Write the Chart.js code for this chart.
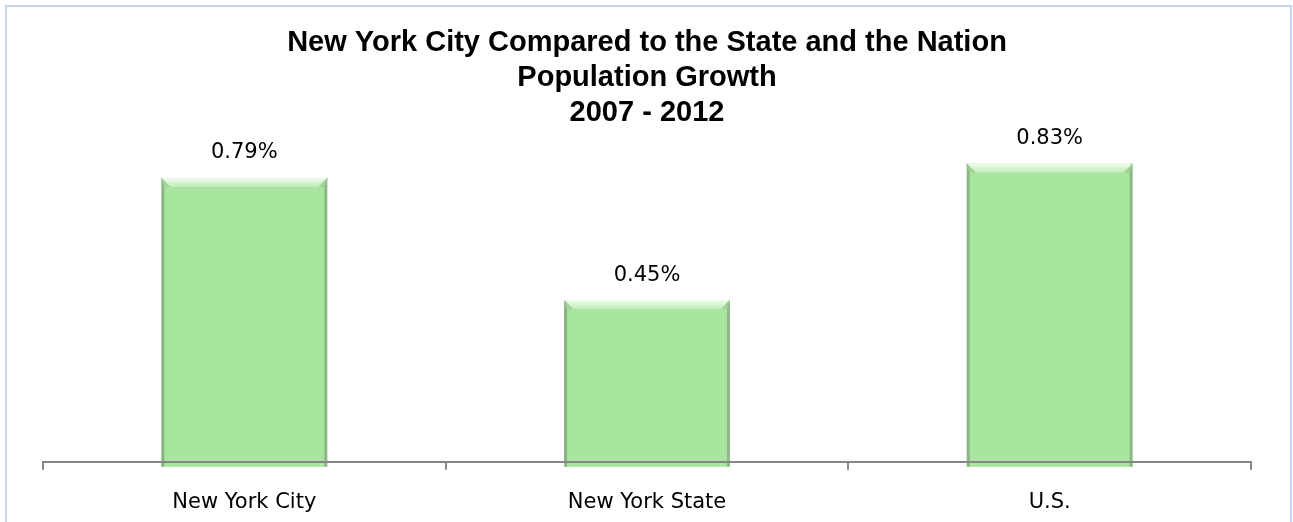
<!DOCTYPE html>
<html>
<head>
<meta charset="utf-8">
<script src="https://cdn.jsdelivr.net/npm/chart.js@4.4.0/dist/chart.umd.min.js"></script>
<style>
  html, body { margin: 0; padding: 0; background: #fff; }
  #wrap { position: relative; width: 1293px; height: 522px; overflow: hidden; }
  #frame { position: absolute; left: 5px; top: 5px; width: 1287px; height: 530px; border: 2px solid #c3d5ec; box-sizing: border-box; }
  canvas { position: absolute; left: 0; top: 0; }
</style>
</head>
<body>
<div id="wrap">
  <div id="frame"></div>
  <canvas id="growthChart" width="1293" height="522"></canvas>
</div>
<script>
// chart data
const places = ['New York City', 'New York State', 'U.S.'];
const growth = [0.79, 0.45, 0.83];
const titleLines = ['New York City Compared to the State and the Nation', 'Population Growth', '2007 - 2012'];

// value labels above each bar
const valueLabels = {
    id: 'valueLabels',
    afterDatasetsDraw(chart) {
        const ctx = chart.ctx;
        const meta = chart.getDatasetMeta(0);
        ctx.save();
        ctx.font = '21px "DejaVu Sans"';
        ctx.fillStyle = '#000';
        ctx.textAlign = 'center';
        ctx.textBaseline = 'middle';
        meta.data.forEach((bar, i) => {
            ctx.fillText(growth[i].toFixed(2) + '%', bar.x, bar.y - 25);
        });
        ctx.restore();
    }
};

// bevel look on the bars
const bevel = {
    id: 'bevel',
    afterDatasetDraw(chart) {
        const ctx = chart.ctx;
        const meta = chart.getDatasetMeta(0);
        ctx.save();
        meta.data.forEach(bar => {
            const left = bar.x - bar.width / 2;
            const right = bar.x + bar.width / 2;
            const top = bar.y;
            const bottom = bar.base + 5;
            const b = 9;
            // a bit of bar below the axis line
            ctx.fillStyle = '#a8e59f';
            ctx.fillRect(left, bar.base, right - left, 5);
            // dark side edges
            ctx.fillStyle = 'rgba(120,150,115,0.6)';
            ctx.fillRect(left, top, 3, bottom - top);
            ctx.fillStyle = 'rgba(120,150,115,0.55)';
            ctx.fillRect(right - 3, top, 3, bottom - top);
            // top highlight
            const g = ctx.createLinearGradient(0, top, 0, top + b);
            g.addColorStop(0, 'rgba(240,253,236,1)');
            g.addColorStop(0.4, 'rgba(220,246,214,1)');
            g.addColorStop(1, 'rgba(190,236,182,1)');
            ctx.fillStyle = g;
            ctx.beginPath();
            ctx.moveTo(left, top);
            ctx.lineTo(right, top);
            ctx.lineTo(right - b, top + b);
            ctx.lineTo(left + b, top + b);
            ctx.closePath();
            ctx.fill();
            // side bevels just under the top
            ctx.fillStyle = 'rgba(160,205,152,0.8)';
            ctx.beginPath();
            ctx.moveTo(left, top);
            ctx.lineTo(left + b, top + b);
            ctx.lineTo(left + 3, top + b);
            ctx.lineTo(left, top + 3);
            ctx.closePath();
            ctx.fill();
            ctx.beginPath();
            ctx.moveTo(right, top);
            ctx.lineTo(right - b, top + b);
            ctx.lineTo(right - 3, top + b);
            ctx.lineTo(right, top + 3);
            ctx.closePath();
            ctx.fill();
        });
        ctx.restore();
    }
};

window.onload = function() {
    const ctx = document.getElementById('growthChart').getContext('2d');
    new Chart(ctx, {
        type: 'bar',
        data: {
            labels: places,
            datasets: [{
                data: growth,
                backgroundColor: '#a8e59f',
                borderWidth: 0,
                barPercentage: 0.412,
                categoryPercentage: 1.0
            }]
        },
        options: {
            responsive: false,
            animation: false,
            layout: { padding: { left: 43, right: 42, top: 26, bottom: -13 } },
            plugins: {
                legend: { display: false },
                tooltip: { enabled: false },
                title: {
                    display: true,
                    text: titleLines,
                    color: '#000',
                    font: { family: '"Liberation Sans Narrow", "Liberation Sans"', size: 29, weight: 'bold', lineHeight: 1.2 },
                    padding: { top: 0, bottom: 8 }
                }
            },
            scales: {
                x: {
                    offset: true,
                    z: 1,
                    grid: { offset: true, drawOnChartArea: false, drawTicks: true, tickLength: 8, color: '#868686', lineWidth: 2 },
                    border: { color: '#868686', width: 2, z: 1 },
                    ticks: { color: '#000', font: { family: '"DejaVu Sans"', size: 21 }, padding: 20 }
                },
                y: {
                    display: false,
                    min: 0,
                    max: 0.9
                }
            }
        },
        plugins: [bevel, valueLabels]
    });
};
</script>
</body>
</html>
